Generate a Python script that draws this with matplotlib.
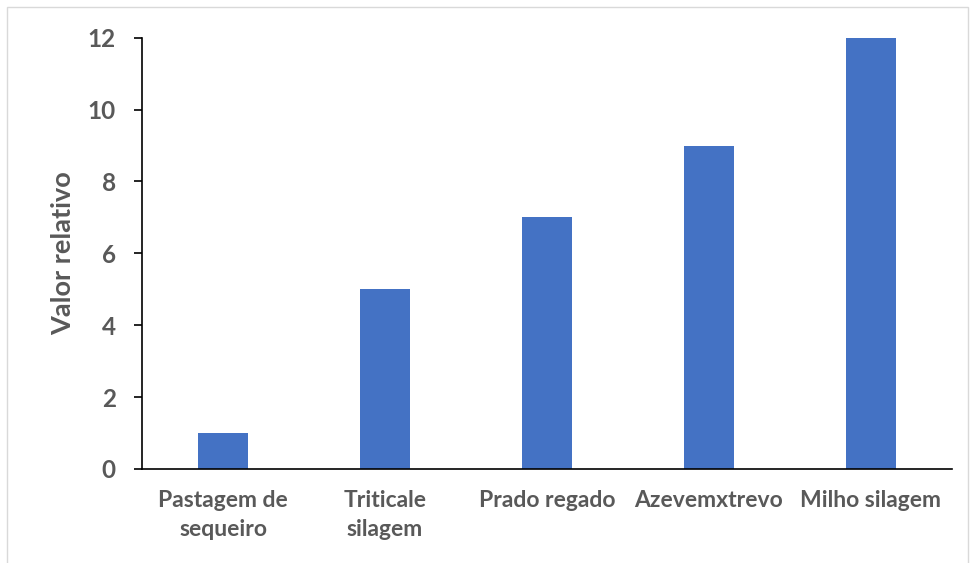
import matplotlib.pyplot as plt
from matplotlib.patches import Rectangle

# Dados
categorias = ["Pastagem de\nsequeiro", "Triticale\nsilagem", "Prado regado", "Azevemxtrevo", "Milho silagem"]
valores = [1, 5, 7, 9, 12]
yticks = [0, 2, 4, 6, 8, 10, 12]

cinza = "#595959"
plt.rcParams['font.family'] = ['Lato', 'DejaVu Sans']

fig = plt.figure(figsize=(9.73, 5.63), dpi=100)
ax = fig.add_axes([0.146, 0.167, 0.832, 0.766])

ax.bar(range(len(valores)), valores, width=0.31, color="#4472C4")
ax.set_xlim(-0.5, len(valores) - 0.5)
ax.set_ylim(0, 12)
ax.set_yticks(yticks)
ax.set_xticks(range(len(categorias)))
ax.set_xticklabels(categorias, fontsize=16.5, fontweight="bold", color=cinza, linespacing=1.5)
ax.set_yticklabels([str(v) for v in yticks], fontsize=17.5, fontweight="bold", color=cinza)
ax.tick_params(axis="y", direction="out", length=6, width=1.2, pad=13)
ax.tick_params(axis="x", length=0, pad=15)
ax.set_ylabel("Valor relativo", fontsize=19.5, fontweight="bold", color=cinza, labelpad=9)

ax.spines["top"].set_visible(False)
ax.spines["right"].set_visible(False)
ax.spines["left"].set_linewidth(1.2)
ax.spines["bottom"].set_linewidth(1.2)

# moldura exterior
fig.patches.append(Rectangle((7 / 973, -0.01), 961 / 973, 1 - 7 / 563 + 0.01,
                             transform=fig.transFigure, fill=False,
                             edgecolor="#D9D9D9", linewidth=1))

fig.savefig("out.png", dpi=100)
